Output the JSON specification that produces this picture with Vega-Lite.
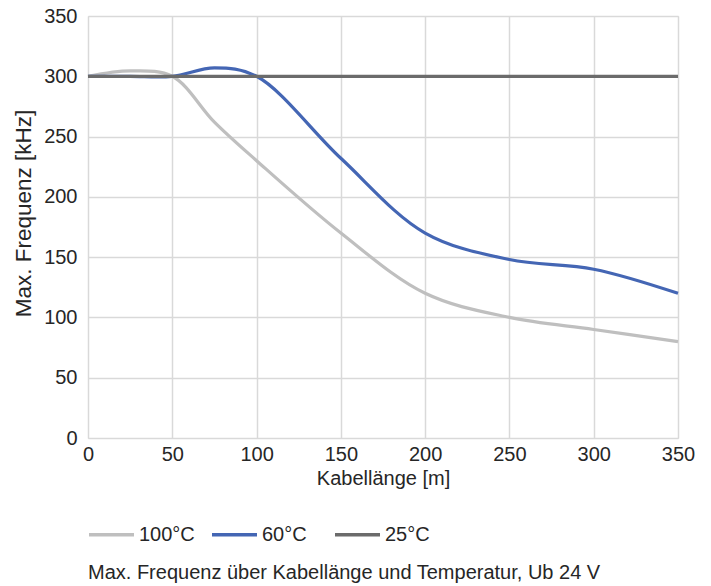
{
  "$schema": "https://vega.github.io/schema/vega-lite/v6.json",
  "width": 590,
  "height": 422,
  "autosize": "none",
  "padding": {"left": 88, "top": 16, "right": 33, "bottom": 148},
  "background": "white",
  "title": {
    "text": "Max. Frequenz über Kabellänge und Temperatur, Ub 24 V",
    "orient": "bottom",
    "anchor": "start",
    "frame": "group",
    "font": "Liberation Sans",
    "fontSize": 20,
    "fontWeight": "normal",
    "color": "#262626",
    "offset": 18
  },
  "data": {
    "values": [
      {"x": 0, "y": 300, "t": "100°C"},
      {"x": 25, "y": 304.5, "t": "100°C"},
      {"x": 50, "y": 300, "t": "100°C"},
      {"x": 75, "y": 262, "t": "100°C"},
      {"x": 100, "y": 230, "t": "100°C"},
      {"x": 150, "y": 170, "t": "100°C"},
      {"x": 200, "y": 120, "t": "100°C"},
      {"x": 250, "y": 100, "t": "100°C"},
      {"x": 300, "y": 90, "t": "100°C"},
      {"x": 350, "y": 80, "t": "100°C"},
      {"x": 0, "y": 300, "t": "60°C"},
      {"x": 25, "y": 300, "t": "60°C"},
      {"x": 50, "y": 300, "t": "60°C"},
      {"x": 75, "y": 307, "t": "60°C"},
      {"x": 100, "y": 300, "t": "60°C"},
      {"x": 150, "y": 232, "t": "60°C"},
      {"x": 200, "y": 170, "t": "60°C"},
      {"x": 250, "y": 148, "t": "60°C"},
      {"x": 300, "y": 140, "t": "60°C"},
      {"x": 350, "y": 120, "t": "60°C"},
      {"x": 0, "y": 300, "t": "25°C"},
      {"x": 50, "y": 300, "t": "25°C"},
      {"x": 100, "y": 300, "t": "25°C"},
      {"x": 150, "y": 300, "t": "25°C"},
      {"x": 200, "y": 300, "t": "25°C"},
      {"x": 250, "y": 300, "t": "25°C"},
      {"x": 300, "y": 300, "t": "25°C"},
      {"x": 350, "y": 300, "t": "25°C"}
    ]
  },
  "mark": {"type": "line", "interpolate": "catmull-rom", "strokeWidth": 3.2},
  "encoding": {
    "x": {
      "field": "x",
      "type": "quantitative",
      "scale": {"domain": [0, 350], "nice": false},
      "axis": {
        "values": [0, 50, 100, 150, 200, 250, 300, 350],
        "title": "Kabellänge [m]",
        "titleFontWeight": "normal",
        "titleFont": "Liberation Sans",
        "titleFontSize": 20,
        "titleColor": "#262626",
        "titlePadding": 4,
        "labelFont": "Liberation Sans",
        "labelFontSize": 20,
        "labelColor": "#262626",
        "labelPadding": 6,
        "ticks": false,
        "domain": false,
        "gridColor": "#D9D9D9",
        "gridWidth": 1.5,
        "labelFlush": false
      }
    },
    "y": {
      "field": "y",
      "type": "quantitative",
      "scale": {"domain": [0, 350], "nice": false},
      "axis": {
        "values": [0, 50, 100, 150, 200, 250, 300, 350],
        "title": "Max. Frequenz [kHz]",
        "titleFontWeight": "normal",
        "titleFont": "Liberation Sans",
        "titleFontSize": 22.5,
        "titleColor": "#262626",
        "titlePadding": 8,
        "titleY": 197,
        "labelFont": "Liberation Sans",
        "labelFontSize": 20,
        "labelColor": "#262626",
        "labelPadding": 11,
        "ticks": false,
        "domain": false,
        "gridColor": "#D9D9D9",
        "gridWidth": 1.5
      }
    },
    "color": {
      "field": "t",
      "type": "nominal",
      "scale": {"domain": ["100°C", "60°C", "25°C"], "range": ["#BFBFBF", "#4466B4", "#6B6B6B"]},
      "legend": {
        "title": null,
        "orient": "none",
        "legendX": -1,
        "legendY": 494,
        "direction": "horizontal",
        "gridAlign": "all",
        "symbolType": "stroke",
        "symbolSize": 2025,
        "symbolStrokeWidth": 3.5,
        "labelFont": "Liberation Sans",
        "labelFontSize": 20,
        "labelColor": "#262626",
        "labelOffset": 3,
        "columnPadding": 10
      }
    }
  }
}
